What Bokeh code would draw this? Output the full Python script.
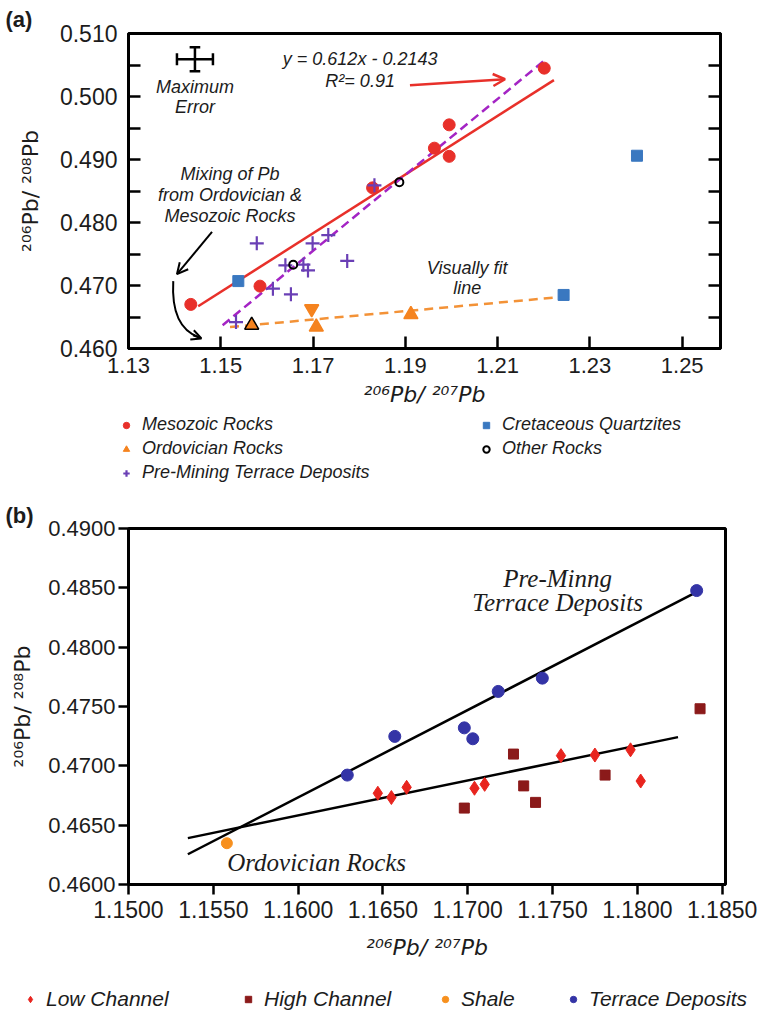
from bokeh.plotting import figure
from bokeh.layouts import column
from bokeh.models import (FixedTicker, LinearAxis, Range1d, Label, Arrow, OpenHead, Title,
                          Legend, LegendItem, PrintfTickFormatter, CustomJSTickFormatter,
                          ColumnDataSource)
from bokeh.embed import file_html
from bokeh.resources import INLINE

# ---------------- Panel (a) data ----------------
meso_x = [1.1435, 1.1585, 1.1829, 1.1963, 1.1995, 1.1995, 1.2201]
meso_y = [0.4670, 0.4699, 0.4855, 0.4918, 0.4955, 0.4905, 0.5045]
cret_x = [1.1538, 1.2402, 1.2243]
cret_y = [0.4707, 0.4906, 0.4685]
ordo_x = [1.1707, 1.1567, 1.1697, 1.1912]
ordo_y = [0.4634, 0.4637, 0.4663, 0.4654]
terr_x = [1.1533, 1.1578, 1.1613, 1.1652, 1.1640, 1.1679, 1.1689, 1.1699, 1.1733, 1.1774, 1.1833]
terr_y = [0.4642, 0.4767, 0.4695, 0.4686, 0.4732, 0.4733, 0.4724, 0.4767, 0.4780, 0.4739, 0.4859]
other_x = [1.1657, 1.1887]
other_y = [0.4733, 0.4864]
fit_red_x = [1.1451, 1.2222]
fit_red_y = [0.4667, 0.5026]
fit_purple_x = [1.1504, 1.2201]
fit_purple_y = [0.4637, 0.5057]
fit_orange_x = [1.1520, 1.2240]
fit_orange_y = [0.4634, 0.4682]
maxerr_x, maxerr_y, maxerr_dx, maxerr_dy = 1.1444, 0.5059, 0.0039, 0.0019
a_xticks = [1.13, 1.15, 1.17, 1.19, 1.21, 1.23, 1.25]
a_yticks = [0.46, 0.47, 0.48, 0.49, 0.50, 0.51]
a_yminor = [0.465, 0.475, 0.485, 0.495, 0.505]

# ---------------- Panel (b) data ----------------
low_x = [1.1647, 1.1655, 1.1664, 1.1704, 1.1710, 1.1755, 1.1775, 1.1796, 1.1802]
low_y = [0.46769, 0.46733, 0.46819, 0.46811, 0.46844, 0.47086, 0.47091, 0.47135, 0.46872]
high_x = [1.1698, 1.1727, 1.1733, 1.1740, 1.1781, 1.1837]
high_y = [0.46644, 0.47099, 0.46831, 0.46692, 0.46922, 0.47481]
shale_x = [1.1558]
shale_y = [0.46348]
tdep_x = [1.1629, 1.1657, 1.1698, 1.1703, 1.1718, 1.1744, 1.1835]
tdep_y = [0.46922, 0.47248, 0.47320, 0.47228, 0.47627, 0.47739, 0.48477]
fit_tdep_x = [1.1535, 1.1834]
fit_tdep_y = [0.46255, 0.48457]
fit_low_x = [1.1535, 1.1824]
fit_low_y = [0.46391, 0.47242]
b_xticks = [1.150, 1.155, 1.160, 1.165, 1.170, 1.175, 1.180, 1.185]
b_yticks = [0.460, 0.465, 0.470, 0.475, 0.480, 0.485, 0.490]

SANS = "Liberation Sans"
SUPFONT = "DejaVu Sans"
SERIF = "Liberation Serif"
TXT = "#1c1c1c"

RED = "#e8302a"
BLUE = "#3a78c0"
ORANGE = "#f5831f"
PURPLE = "#6a3fb5"
MAGENTA = "#a424c4"
B_RED = "#e8241e"
B_DRED = "#8b1a1a"
B_ORANGE = "#f7901e"
B_BLUE = "#3434a6"


def style_axis(ax, font_size, tick_in, tick_out, standoff):
    ax.major_tick_in = tick_in
    ax.major_tick_out = tick_out
    ax.minor_tick_in = 0
    ax.minor_tick_out = 0
    ax.major_tick_line_width = 2.5
    ax.axis_line_width = 3
    ax.major_label_standoff = standoff
    ax.major_label_text_font = SANS
    ax.major_label_text_font_size = font_size
    ax.major_label_text_color = TXT
    ax.axis_label_text_font = SUPFONT
    ax.axis_label_text_font_size = "22px"
    ax.axis_label_text_color = TXT


def lab(p, x, y, text, size="18px", style="italic", font=SANS, align="center", color=TXT):
    p.add_layout(Label(x=x, y=y, text=text, text_font=font, text_font_size=size,
                       text_font_style=style, text_align=align, text_baseline="middle",
                       text_color=color))


def blank_fig(height):
    # legend strip: its frame covers the whole canvas; the series drawn in it lie
    # outside its ranges, so only their legend symbols show
    f = figure(width=765, height=height, x_range=Range1d(0, 1), y_range=Range1d(0, 1),
               output_backend="svg", toolbar_location=None, x_axis_type=None, y_axis_type=None,
               min_border_left=0, min_border_right=0, min_border_top=0, min_border_bottom=0,
               frame_align=False)
    f.grid.visible = False
    f.outline_line_color = None
    return f


# ================= Panel (a) =================
pa = figure(width=765, height=410, x_range=Range1d(1.13, 1.2583), y_range=Range1d(0.46, 0.51),
            output_backend="svg", toolbar_location=None, frame_align=False,
            min_border_left=128, min_border_right=45, min_border_top=33, min_border_bottom=62)
pa.grid.visible = False
pa.outline_line_color = "black"
pa.outline_line_width = 3
pa.add_layout(Title(text="(a)", align="left", offset=-123, standoff=4, text_font=SANS,
                    text_font_size="22px", text_font_style="bold", text_color=TXT), "above")

xa = pa.xaxis[0]
xa.ticker = FixedTicker(ticks=a_xticks)
xa.formatter = PrintfTickFormatter(format="%.2f")
style_axis(xa, "22px", 12, 0, 9)
xa.axis_label = "²⁰⁶Pb/ ²⁰⁷Pb"
xa.axis_label_text_font_style = "italic"
xa.axis_label_standoff = 6

ya = pa.yaxis[0]
ya.ticker = FixedTicker(ticks=a_yticks, minor_ticks=a_yminor)
ya.formatter = PrintfTickFormatter(format="%.3f")
style_axis(ya, "23px", 12, 0, 11)
ya.minor_tick_in = 12
ya.minor_tick_line_width = 2.5
ya.axis_label = "²⁰⁶Pb/ ²⁰⁸Pb"
ya.axis_label_text_font_style = "normal"
ya.axis_label_standoff = 14

ra = LinearAxis(ticker=FixedTicker(ticks=a_yticks, minor_ticks=a_yminor),
                formatter=CustomJSTickFormatter(code="return ''"),
                major_tick_in=12, major_tick_out=0, minor_tick_in=12, minor_tick_out=0,
                major_tick_line_width=2.5, minor_tick_line_width=2.5, axis_line_width=3,
                major_label_text_font_size="1px")
pa.add_layout(ra, "right")

pa.line(fit_orange_x, fit_orange_y, line_color="#f39237", line_width=2.5, line_dash="9 6")
pa.line(fit_red_x, fit_red_y, line_color=RED, line_width=2.5)
pa.line(fit_purple_x, fit_purple_y, line_color=MAGENTA, line_width=2.5, line_dash="9 5")

pa.scatter(meso_x, meso_y, marker="circle", size=12, fill_color=RED, line_color=RED)
pa.scatter(cret_x, cret_y, marker="square", size=11, fill_color=BLUE, line_color=BLUE)
ordo_src = ColumnDataSource(dict(x=ordo_x, y=ordo_y,
                                 m=["triangle", "triangle", "inverted_triangle", "triangle"],
                                 lc=[ORANGE, "black", ORANGE, ORANGE]))
pa.scatter("x", "y", source=ordo_src, marker="m", size=14, fill_color=ORANGE,
           line_color="lc", line_width=1.5)
pa.scatter(terr_x, terr_y, marker="cross", size=14, line_color=PURPLE, line_width=2.2)
pa.scatter(other_x, other_y, marker="circle", size=8, fill_color=None,
           line_color="black", line_width=2)

# Maximum error symbol
pa.segment(x0=[maxerr_x - maxerr_dx, maxerr_x], y0=[maxerr_y, maxerr_y - maxerr_dy],
           x1=[maxerr_x + maxerr_dx, maxerr_x], y1=[maxerr_y, maxerr_y + maxerr_dy],
           line_color="black", line_width=2.5)
cap_x = 0.00115
cap_y = 0.00095
pa.segment(x0=[maxerr_x - cap_x, maxerr_x - cap_x, maxerr_x - maxerr_dx, maxerr_x + maxerr_dx],
           y0=[maxerr_y + maxerr_dy, maxerr_y - maxerr_dy, maxerr_y - cap_y, maxerr_y - cap_y],
           x1=[maxerr_x + cap_x, maxerr_x + cap_x, maxerr_x - maxerr_dx, maxerr_x + maxerr_dx],
           y1=[maxerr_y + maxerr_dy, maxerr_y - maxerr_dy, maxerr_y + cap_y, maxerr_y + cap_y],
           line_color="black", line_width=2.5)

lab(pa, maxerr_x, 0.50147, "Maximum")
lab(pa, maxerr_x, 0.49828, "Error")
lab(pa, 1.1802, 0.5059, "y = 0.612x - 0.2143")
lab(pa, 1.1802, 0.50242, "R²= 0.91")
lab(pa, 1.1520, 0.48775, "Mixing of Pb")
lab(pa, 1.1520, 0.48440, "from Ordovician &")
lab(pa, 1.1520, 0.48105, "Mesozoic Rocks")
lab(pa, 1.2034, 0.47276, "Visually fit")
lab(pa, 1.2034, 0.46957, "line")

pa.add_layout(Arrow(end=OpenHead(size=12, line_color=RED, line_width=2.5),
                    x_start=1.1910, y_start=0.50179, x_end=1.2116, y_end=0.50274,
                    line_color=RED, line_width=2.5))
pa.add_layout(Arrow(end=OpenHead(size=11, line_color="black", line_width=2),
                    x_start=1.1481, y_start=0.4785, x_end=1.1405, y_end=0.4718,
                    line_color="black", line_width=2))
pa.bezier(x0=[1.1397], y0=[0.4707], x1=[1.1452], y1=[0.4618],
          cx0=[1.1393], cy0=[0.4655], cx1=[1.1415], cy1=[0.4628],
          line_color="black", line_width=2)
pa.add_layout(Arrow(end=OpenHead(size=10, line_color="black", line_width=2),
                    x_start=1.1440, y_start=0.4621, x_end=1.1458, y_end=0.4616,
                    line_color="black", line_width=2))

leg_style = dict(background_fill_alpha=0, border_line_color=None, padding=0, margin=0,
                 spacing=3, glyph_width=16, glyph_height=20, label_height=20,
                 label_standoff=8, label_text_font=SANS, label_text_font_size="18px",
                 label_text_font_style="italic", label_text_color=TXT)

# ---- legend strip for (a) (page y 410..492) ----
la = blank_fig(82)
g_meso = la.scatter(meso_x, meso_y, marker="circle", size=12, fill_color=RED, line_color=RED)
g_ordo = la.scatter(ordo_x, ordo_y, marker="triangle", size=14, fill_color=ORANGE, line_color=ORANGE)
g_terr = la.scatter(terr_x, terr_y, marker="cross", size=14, line_color=PURPLE, line_width=2.2)
g_cret = la.scatter(cret_x, cret_y, marker="square", size=11, fill_color=BLUE, line_color=BLUE)
g_other = la.scatter(other_x, other_y, marker="circle", size=8, fill_color=None,
                     line_color="black", line_width=2)
la.add_layout(Legend(items=[LegendItem(label="Mesozoic Rocks", renderers=[g_meso]),
                            LegendItem(label="Ordovician Rocks", renderers=[g_ordo]),
                            LegendItem(label="Pre-Mining Terrace Deposits", renderers=[g_terr])],
                     location=(118, 9), **leg_style))
la.add_layout(Legend(items=[LegendItem(label="Cretaceous Quartzites", renderers=[g_cret]),
                            LegendItem(label="Other Rocks", renderers=[g_other])],
                     location=(478, 33), **leg_style))

# ================= Panel (b) =================
pb = figure(width=765, height=478, x_range=Range1d(1.15, 1.1852), y_range=Range1d(0.46, 0.49),
            output_backend="svg", toolbar_location=None, frame_align=False,
            min_border_left=128, min_border_right=40, min_border_top=36, min_border_bottom=86)
pb.grid.visible = False
pb.outline_line_color = "black"
pb.outline_line_width = 3
pb.add_layout(Title(text="(b)", align="left", offset=-123, standoff=2, text_font=SANS,
                    text_font_size="22px", text_font_style="bold", text_color=TXT), "above")

xb = pb.xaxis[0]
xb.ticker = FixedTicker(ticks=b_xticks)
xb.formatter = PrintfTickFormatter(format="%.4f")
style_axis(xb, "23px", 0, 10, 6)
xb.axis_label = "²⁰⁶Pb/ ²⁰⁷Pb"
xb.axis_label_text_font_style = "italic"
xb.axis_label_standoff = 14

yb = pb.yaxis[0]
yb.ticker = FixedTicker(ticks=b_yticks)
yb.formatter = PrintfTickFormatter(format="%.4f")
style_axis(yb, "22px", 0, 10, 3)
yb.axis_label = "²⁰⁶Pb/ ²⁰⁸Pb"
yb.axis_label_text_font_style = "normal"
yb.axis_label_standoff = 10

pb.line(fit_tdep_x, fit_tdep_y, line_color="black", line_width=2.5)
pb.line(fit_low_x, fit_low_y, line_color="black", line_width=2.5)

pb.scatter(low_x, low_y, marker="diamond", size=14, fill_color=B_RED, line_color=B_RED)
pb.scatter(high_x, high_y, marker="square", size=10, fill_color=B_DRED, line_color=B_DRED)
pb.scatter(shale_x, shale_y, marker="circle", size=11, fill_color=B_ORANGE, line_color=B_ORANGE)
pb.scatter(tdep_x, tdep_y, marker="circle", size=12, fill_color=B_BLUE, line_color=B_BLUE)

lab(pb, 1.1753, 0.48579, "Pre-Minng", size="25px", font=SERIF)
lab(pb, 1.1753, 0.48376, "Terrace Deposits", size="25px", font=SERIF)
lab(pb, 1.15582, 0.46185, "Ordovician Rocks", size="25px", font=SERIF, align="left")

# ---- legend strip for (b) (page y 970..1012) ----
lb = blank_fig(42)
h_low = lb.scatter(low_x, low_y, marker="diamond", size=14, fill_color=B_RED, line_color=B_RED)
h_high = lb.scatter(high_x, high_y, marker="square", size=10, fill_color=B_DRED, line_color=B_DRED)
h_shale = lb.scatter(shale_x, shale_y, marker="circle", size=11, fill_color=B_ORANGE, line_color=B_ORANGE)
h_tdep = lb.scatter(tdep_x, tdep_y, marker="circle", size=11, fill_color=B_BLUE, line_color=B_BLUE)
b_leg_style = dict(leg_style, label_text_font_size="21px", label_height=22, glyph_height=22)
for name, rend, gx in [("Low Channel", h_low, 22), ("High Channel", h_high, 240),
                       ("Shale", h_shale, 437), ("Terrace Deposits", h_tdep, 565)]:
    lb.add_layout(Legend(items=[LegendItem(label=name, renderers=[rend])],
                         location=(gx, 1), **b_leg_style))

layout = column(pa, la, pb, lb, spacing=0)
open("out.html", "w").write(file_html(layout, INLINE))
